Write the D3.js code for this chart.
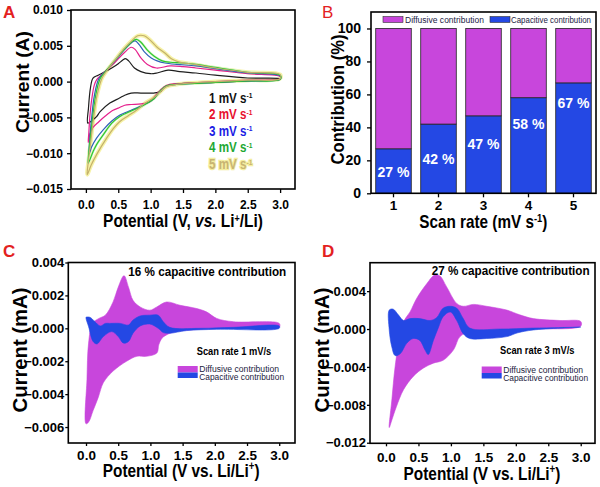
<!DOCTYPE html>
<html><head><meta charset="utf-8">
<script src="https://cdn.jsdelivr.net/npm/d3@7"></script>
<style>
body{margin:0;background:#fff}
text{font-family:Arial,"Liberation Sans",sans-serif}
</style>
</head><body>
<svg id="c" width="600" height="487"></svg>
<script>
// ---------------- DATA ----------------
// Panel A: CV loops [V, I(A)], cathodic 3.0 -> 0, then anodic 0 -> 3.0
const aRates = ["1", "2", "3", "4", "5"];
const cv1 = [[3.0,0.0003],[2.5,0.0001],[2.0,-0.0001],[1.6,-0.0002],[1.35,-0.0004],[1.22,-0.0007],[1.15,-0.0014],[1.05,-0.0016],[0.85,-0.0016],[0.7,-0.0016],[0.6,-0.0019],[0.52,-0.0023],[0.37,-0.003],[0.22,-0.0042],[0.165,-0.0049],[0.1,-0.0054],[0.03,-0.0058],
  [0.04,-0.0037],[0.07,-0.0009],[0.11,0.0005],[0.19,0.0009],[0.3,0.0014],[0.4,0.0019],[0.5,0.0025],[0.57,0.003],[0.61,0.0032],[0.66,0.0029],[0.75,0.0019],[0.85,0.0014],[1.0,0.0011],[1.1,0.0012],[1.27,0.0016],[1.45,0.0014],[1.7,0.0012],[2.0,0.0009],[2.5,0.0005],[3.0,0.0004]];
const cv2 = [[3.0,0.0004],[2.5,0.0002],[2.0,0.0],[1.6,-0.0002],[1.4,-0.0003],[1.25,-0.0005],[1.15,-0.0012],[1.05,-0.0022],[0.99,-0.0028],[0.85,-0.0031],[0.7,-0.0032],[0.6,-0.0033],[0.5,-0.0037],[0.42,-0.004],[0.3,-0.0048],[0.2,-0.0056],[0.11,-0.0064],[0.06,-0.0074],[0.035,-0.0085],
  [0.045,-0.0072],[0.06,-0.005],[0.09,-0.0025],[0.13,-0.0005],[0.17,0.0003],[0.25,0.001],[0.32,0.0016],[0.45,0.0027],[0.6,0.0041],[0.7,0.0048],[0.76,0.0045],[0.85,0.0033],[0.95,0.0024],[1.09,0.0019],[1.3,0.0022],[1.5,0.0021],[1.7,0.0019],[2.0,0.0016],[2.5,0.0011],[3.0,0.0007]];
const cv3 = [[3.0,0.0003],[2.5,0.0001],[2.0,-0.0001],[1.6,-0.0003],[1.4,-0.0004],[1.25,-0.0006],[1.15,-0.0013],[1.05,-0.0024],[0.95,-0.003],[0.83,-0.0035],[0.7,-0.004],[0.52,-0.0047],[0.4,-0.0055],[0.27,-0.0067],[0.165,-0.0079],[0.09,-0.0091],[0.05,-0.0101],
  [0.06,-0.008],[0.09,-0.005],[0.13,-0.002],[0.2,0.0004],[0.32,0.0016],[0.45,0.0029],[0.6,0.0045],[0.7,0.0054],[0.76,0.0057],[0.82,0.0052],[0.9,0.0042],[1.01,0.0033],[1.1,0.0029],[1.22,0.0026],[1.4,0.0024],[1.7,0.0022],[2.0,0.0018],[2.5,0.0012],[3.0,0.0008]];
const cv4 = [[3.0,0.0003],[2.5,0.0001],[2.0,-0.0001],[1.6,-0.0003],[1.4,-0.0004],[1.25,-0.0006],[1.15,-0.0013],[1.05,-0.0024],[0.95,-0.003],[0.83,-0.0036],[0.7,-0.0041],[0.52,-0.0049],[0.4,-0.0058],[0.27,-0.0074],[0.165,-0.0088],[0.11,-0.0098],[0.035,-0.0114],
  [0.05,-0.0095],[0.08,-0.007],[0.15,-0.002],[0.22,0.0004],[0.32,0.0016],[0.45,0.003],[0.6,0.0046],[0.7,0.0055],[0.78,0.0059],[0.85,0.0055],[0.95,0.0044],[1.06,0.0035],[1.18,0.0029],[1.3,0.0027],[1.5,0.0026],[1.7,0.0024],[2.0,0.002],[2.5,0.0013],[3.0,0.0009]];
const cv5 = [[3.0,0.0004],[2.5,0.0002],[2.0,0.0],[1.6,-0.0002],[1.4,-0.0004],[1.245,-0.0007],[1.15,-0.0014],[1.04,-0.0023],[0.9,-0.0031],[0.78,-0.004],[0.65,-0.0048],[0.52,-0.0056],[0.42,-0.0066],[0.32,-0.0079],[0.165,-0.0102],[0.08,-0.0117],[0.02,-0.013],
  [0.04,-0.011],[0.08,-0.008],[0.12,-0.005],[0.17,-0.002],[0.25,0.0005],[0.33,0.0016],[0.45,0.003],[0.6,0.0047],[0.72,0.0058],[0.8,0.0064],[0.9,0.0064],[0.98,0.0059],[1.1,0.0048],[1.22,0.004],[1.32,0.0032],[1.42,0.0028],[1.68,0.0024],[2.0,0.0019],[2.5,0.0013],[3.0,0.001]];
const aXTicks = [0, 0.5, 1.0, 1.5, 2.0, 2.5, 3.0];
const aYTicks = [-0.015, -0.010, -0.005, 0.000, 0.005, 0.010];

// Panel B
const bRates = [1, 2, 3, 4, 5];
const bCapacitive = [27, 42, 47, 58, 67];
const bDiffusive = [73, 58, 53, 42, 33];
const bLabelAt = [13, 21, 30, 42, 54.7];
const bYTicks = [0, 20, 40, 60, 80, 100];

// Panel C (1 mV/s)
const cDiffUpper = [[0,-0.0058],[0.015,-0.0031],[0.04,-0.0009],[0.1,0.0003],[0.2,0.0006],[0.3,0.0008],[0.42,0.0016],[0.5,0.0025],[0.59,0.0032],[0.66,0.0025],[0.73,0.0017],[0.84,0.0013],[0.99,0.0011],[1.1,0.0013],[1.25,0.0016],[1.46,0.0014],[1.72,0.0012],[1.87,0.001],[2.03,0.0006],[2.29,0.0004],[3.0,0.0003]];
const cDiffLower = [[3.0,0.00006],[2.3,0.0],[1.77,-0.00006],[1.4,-0.0002],[1.25,-0.0004],[1.18,-0.0006],[1.13,-0.001],[1.1,-0.0015],[0.94,-0.0017],[0.79,-0.0017],[0.63,-0.002],[0.42,-0.0026],[0.27,-0.0033],[0.19,-0.0042],[0.11,-0.005],[0.04,-0.0057]];
const cCapUpper = [[0.0,0.00067],[0.06,0.00067],[0.14,0.0004],[0.22,0.00014],[0.3,0.0003],[0.37,0.0003],[0.53,0.0003],[0.66,0.0002],[0.73,0.0005],[0.84,0.00075],[0.99,0.0008],[1.12,0.0008],[1.2,0.0004],[1.3,0.00006],[1.77,0.0],[2.29,0.00006],[3.0,0.00014]];
const cCapLower = [[3.0,0.0],[2.03,-0.00006],[1.56,-0.00014],[1.3,-0.0003],[1.2,-0.00026],[1.12,0.0],[0.99,0.00026],[0.84,0.00014],[0.73,-0.0003],[0.66,-0.0008],[0.58,-0.0009],[0.5,-0.0005],[0.4,-0.0002],[0.27,-0.0005],[0.17,-0.00095],[0.11,-0.0008],[0.04,0.0001],[0.0,0.0006]];
const cYTicks = [-0.006, -0.004, -0.002, 0.000, 0.002, 0.004];

// Panel D (3 mV/s)
const dDiffUpper = [[0.05,-0.0104],[0.09,-0.0075],[0.14,-0.004],[0.22,-0.0005],[0.28,0.0009],[0.37,0.0018],[0.47,0.0032],[0.63,0.0048],[0.75,0.0057],[0.83,0.0056],[0.93,0.0045],[1.09,0.0027],[1.19,0.0024],[1.35,0.0026],[1.55,0.0024],[1.86,0.002],[2.06,0.0015],[2.27,0.0011],[2.68,0.0009],[3.0,0.0008]];
const dDiffLower = [[3.0,0.0003],[2.27,0.0],[1.76,-0.0002],[1.29,-0.0003],[1.14,-0.0008],[1.04,-0.0022],[0.88,-0.0033],[0.73,-0.0036],[0.58,-0.0041],[0.42,-0.005],[0.27,-0.0064],[0.16,-0.0082],[0.09,-0.0096]];
const dCapUpper = [[0.05,0.002],[0.11,0.0021],[0.19,0.0015],[0.27,0.0009],[0.37,0.0011],[0.52,0.0011],[0.68,0.0009],[0.78,0.0012],[0.88,0.0022],[0.99,0.0024],[1.09,0.0022],[1.19,0.0011],[1.29,0.0001],[1.76,0.0],[2.27,0.0001],[3.0,0.0002]];
const dCapLower = [[3.0,0.0002],[2.27,-0.0001],[2.03,-0.0004],[1.86,-0.0008],[1.55,-0.001],[1.29,-0.001],[1.19,-0.0005],[1.09,0.0009],[0.99,0.0018],[0.88,0.0013],[0.81,0.0002],[0.73,-0.0012],[0.65,-0.0027],[0.6,-0.0022],[0.52,-0.0012],[0.42,-0.001],[0.32,-0.0015],[0.22,-0.0026],[0.14,-0.0028],[0.09,-0.0019],[0.05,-0.0001]];
const dYTicks = [-0.012, -0.008, -0.004, 0.000, 0.004];

// ---------------- DRAW ----------------
const svg = d3.select("#c");
const MAG = "#c846dc", BLU = "#2448e4";

function styleAxis(g, size) {
  g.select(".domain").remove();
  g.selectAll(".tick line").attr("stroke", "#000").attr("stroke-width", 1.3);
  g.selectAll(".tick text").attr("font-size", size).attr("font-weight", "bold").attr("fill", "#000")
    .attr("font-family", 'Arial,"Liberation Sans",sans-serif');
}
function box(x0, y0, x1, y1) {
  svg.append("rect").attr("x", x0).attr("y", y0).attr("width", x1 - x0).attr("height", y1 - y0)
    .attr("fill", "none").attr("stroke", "#000").attr("stroke-width", 1.6);
}
// text placed at (x,y), optionally rotated, optionally squeezed horizontally to a given width
function label(x, y, parts, opt) {
  const g = svg.append("g").attr("transform", `translate(${x},${y})` + (opt.rot ? " rotate(-90)" : ""));
  const t = g.append("text").attr("x", 0).attr("y", 0)
    .attr("font-size", opt.size).attr("font-weight", opt.weight || "bold").attr("fill", opt.fill || "#000")
    .attr("text-anchor", opt.anchor || "start");
  (Array.isArray(parts) ? parts : [parts]).forEach(p => {
    if (typeof p === "string") t.append("tspan").text(p);
    else {
      const s = t.append("tspan").text(p.t);
      if (p.sup) s.attr("baseline-shift", "super").attr("font-size", p.sup);
      if (p.it) s.attr("font-style", "italic");
    }
  });
  if (opt.stroke) t.attr("stroke", opt.stroke).attr("stroke-width", opt.sw).attr("paint-order", "stroke");
  if (opt.len) {
    const w = t.node().getBBox().width;
    if (w > 0) t.attr("transform", `scale(${opt.len / w},1)`);
  }
  return t;
}

// ===== Panel A =====
{
  const x = d3.scaleLinear().domain([-0.23, 3.23]).range([71, 295]);
  const y = d3.scaleLinear().domain([-0.015, 0.010]).range([189, 10]);
  const line = d3.line().x(d => x(d[0])).y(d => y(d[1])).curve(d3.curveCatmullRomClosed.alpha(0.5));
  const series = [cv1, cv2, cv3, cv4, cv5];
  const colors = ["#1e1e1e", "#e5208c", "#2f62b8", "#2ec82e", "#c4b06a"];
  svg.append("path").attr("d", line(cv5)).attr("fill", "none").attr("stroke", "#f6f2a6").attr("stroke-width", 4);
  svg.append("path").attr("d", line(cv4)).attr("fill", "none").attr("stroke", "#d8f5c8").attr("stroke-width", 2.5);
  series.forEach((s, i) => {
    svg.append("path").attr("d", line(s)).attr("fill", "none").attr("stroke", colors[i]).attr("stroke-width", 1.2);
  });
  svg.append("g").attr("transform", "translate(0,189)")
    .call(d3.axisBottom(x).tickValues(aXTicks).tickFormat(d3.format(".1f")).tickSize(4).tickPadding(7))
    .call(g => styleAxis(g, 12));
  svg.append("g").attr("transform", "translate(71,0)")
    .call(d3.axisLeft(y).tickValues(aYTicks).tickFormat(d3.format(".3f")).tickSize(4).tickPadding(4))
    .call(g => styleAxis(g, 12));
  box(71, 10, 295, 189);
  const legCol = ["#111", "#e8102e", "#1c1ce4", "#22a832", "#c8b472"];
  aRates.forEach((r, i) => {
    const o = { size: 14, fill: legCol[i], len: 44 };
    if (i === 4) { o.stroke = "#f4eea0"; o.sw = 2.5; }
    label(209, 102.5 + i * 16.6, [r + " mV s", { t: "-1", sup: 8 }], o);
  });
  label(29, 82, "Current (A)", { size: 19, anchor: "middle", rot: true, len: 102 });
  label(183, 227, ["Potential (V, ", { t: "vs.", it: true }, " Li", { t: "+", sup: 11 }, "/Li)"], { size: 19, anchor: "middle", len: 160 });
  label(3, 18, "A", { size: 17, fill: "#e3211f" });
}

// ===== Panel B =====
{
  const x = d3.scaleBand().domain(bRates).range([371, 596]).paddingInner(0.21).paddingOuter(0.105);
  const y = d3.scaleLinear().domain([0, 110]).range([193.3, 12]);
  const g = svg.append("g");
  g.selectAll(".cap").data(bRates).join("rect")
    .attr("x", d => x(d)).attr("width", x.bandwidth())
    .attr("y", (d, i) => y(bCapacitive[i])).attr("height", (d, i) => y(0) - y(bCapacitive[i]))
    .attr("fill", BLU).attr("stroke", "#222").attr("stroke-width", 0.8);
  g.selectAll(".dif").data(bRates).join("rect")
    .attr("x", d => x(d)).attr("width", x.bandwidth())
    .attr("y", (d, i) => y(bCapacitive[i] + bDiffusive[i])).attr("height", (d, i) => y(bCapacitive[i]) - y(bCapacitive[i] + bDiffusive[i]))
    .attr("fill", MAG).attr("stroke", "#222").attr("stroke-width", 0.8);
  g.selectAll(".pl").data(bRates).join("text")
    .attr("x", d => x(d) + x.bandwidth() / 2).attr("y", (d, i) => y(bLabelAt[i]) + 5)
    .attr("text-anchor", "middle").attr("font-size", 14).attr("font-weight", "bold").attr("fill", "#fff")
    .text((d, i) => bCapacitive[i] + " %");
  svg.append("g").attr("transform", "translate(0,193.3)")
    .call(d3.axisBottom(x).tickSize(4).tickPadding(3))
    .call(g => styleAxis(g, 13.5));
  svg.append("g").attr("transform", "translate(371,0)")
    .call(d3.axisLeft(y).tickValues(bYTicks).tickSize(4).tickPadding(6))
    .call(g => styleAxis(g, 14));
  box(371, 12, 596, 193.3);
  svg.append("rect").attr("x", 383).attr("y", 16.5).attr("width", 20).attr("height", 6).attr("fill", MAG).attr("stroke", "#333").attr("stroke-width", 0.6);
  label(405, 22.5, "Diffusive contribution", { size: 9.5, weight: "normal", fill: "#222244", len: 79 });
  svg.append("rect").attr("x", 490).attr("y", 16.5).attr("width", 20).attr("height", 6).attr("fill", BLU).attr("stroke", "#333").attr("stroke-width", 0.6);
  label(511, 22.5, "Capacitive contribution", { size: 9.5, weight: "normal", fill: "#222244", len: 80 });
  label(344, 99.5, "Contribution (%)", { size: 18, anchor: "middle", rot: true, len: 130 });
  label(483.3, 227.5, ["Scan rate (mV s", { t: "-1", sup: 11 }, ")"], { size: 18, anchor: "middle", len: 128 });
  label(322, 18, "B", { size: 17, weight: "normal", fill: "#e3211f" });
}

// ===== Panels C and D =====
function cvPanel(o) {
  const x = d3.scaleLinear().domain(o.xd).range([o.x0, o.x1]);
  const y = d3.scaleLinear().domain(o.yd).range([o.y1, o.y0]);
  const area = d3.line().x(d => x(d[0])).y(d => y(d[1])).curve(d3.curveCatmullRomClosed.alpha(0.5));
  svg.append("path").attr("d", area(o.diffU.concat(o.diffL))).attr("fill", MAG).attr("stroke", MAG).attr("stroke-width", 0.6);
  svg.append("path").attr("d", area(o.capU.concat(o.capL))).attr("fill", BLU).attr("stroke", BLU).attr("stroke-width", 0.6);
  svg.append("g").attr("transform", `translate(0,${o.y1})`)
    .call(d3.axisBottom(x).tickValues(aXTicks).tickFormat(d3.format(".1f")).tickSize(3).tickPadding(o.xpad))
    .call(g => styleAxis(g, 13.5));
  svg.append("g").attr("transform", `translate(${o.x0},0)`)
    .call(d3.axisLeft(y).tickValues(o.yt).tickFormat(d3.format(".3f")).tickSize(3).tickPadding(1))
    .call(g => styleAxis(g, 13));
  box(o.x0, o.y0, o.x1, o.y1);
  label(o.annX, o.annY, o.ann, { size: 13.5, len: 158 });
  label(o.scanX, o.annY + 79, o.scan, { size: 10, len: 75 });
  svg.append("rect").attr("x", o.legX).attr("y", o.legY - 6.5).attr("width", 20).attr("height", 6.5).attr("fill", MAG);
  svg.append("rect").attr("x", o.legX).attr("y", o.legY).attr("width", 20).attr("height", 5.5).attr("fill", BLU);
  label(o.legX + 21.5, o.legY - 0.5, "Diffusive contribution", { size: 9.5, weight: "normal", fill: "#1c1c40", len: 80 });
  label(o.legX + 21.5, o.legY + 7.5, "Capacitive contribution", { size: 9.5, weight: "normal", fill: "#1c1c40", len: 85 });
  label(o.x0 - 41, 350, "Current (mA)", { size: 20, anchor: "middle", rot: true, len: 125 });
  label((o.x0 + o.x1) / 2 - 0.5, o.xlY, ["Potential (V vs. Li/Li", { t: "+", sup: 12 }, ")"], { size: 19, anchor: "middle", len: 157 });
  label(o.letterX, 256.7, o.letter, { size: 17, fill: "#e3211f" });
}
cvPanel({ x0: 68.3, x1: 295, y0: 262.5, y1: 443, xd: [-0.275, 3.245], yd: [-0.00697, 0.004],
  yt: cYTicks, xpad: 4, diffU: cDiffUpper, diffL: cDiffLower, capU: cCapUpper, capL: cCapLower,
  ann: "16 % capacitive contribution", annX: 128.3, annY: 275.5, scan: "Scan rate 1 mV/s", scanX: 196.7,
  legX: 177.7, legY: 372.5, xlY: 477, letter: "C", letterX: 3 });
cvPanel({ x0: 370, x1: 595, y0: 262.7, y1: 443.3, xd: [-0.2465, 3.22], yd: [-0.01206, 0.007],
  yt: dYTicks, xpad: 6, diffU: dDiffUpper, diffL: dDiffLower, capU: dCapUpper, capL: dCapLower,
  ann: "27 % capacitive contribution", annX: 431.7, annY: 274.5, scan: "Scan rate 3 mV/s", scanX: 500,
  legX: 481.7, legY: 373, xlY: 479.5, letter: "D", letterX: 322 });
</script>
</body></html>
